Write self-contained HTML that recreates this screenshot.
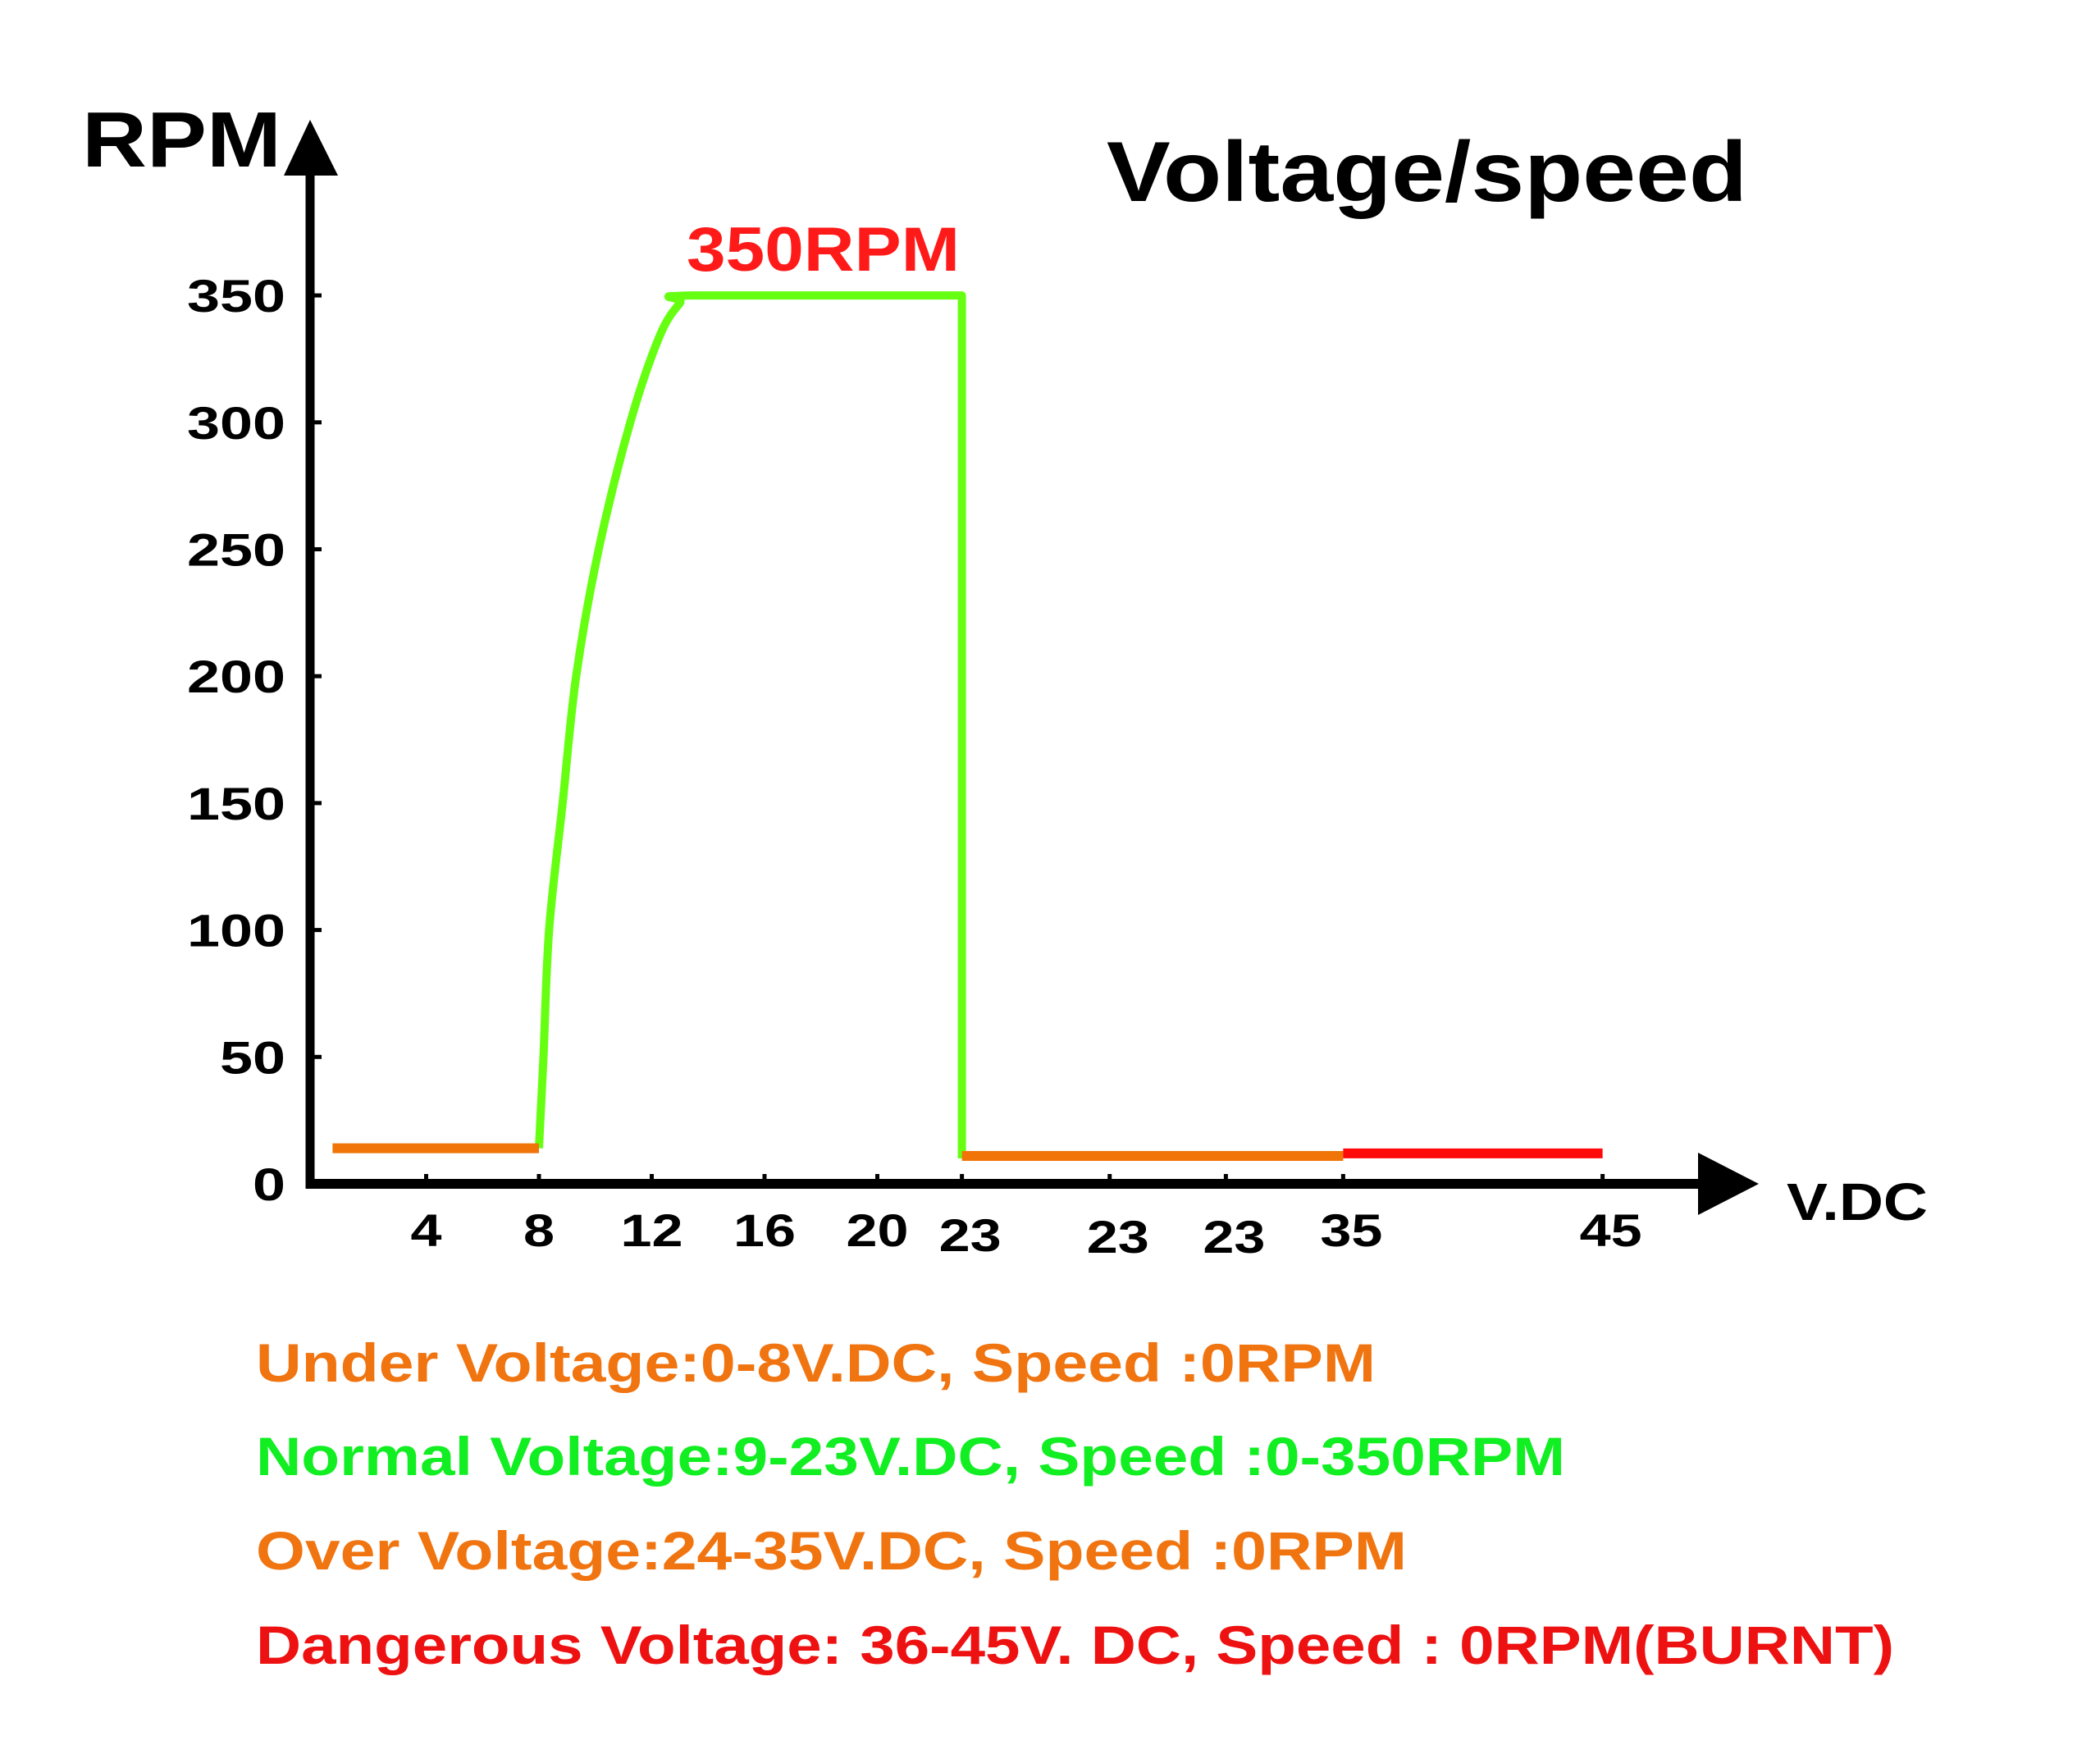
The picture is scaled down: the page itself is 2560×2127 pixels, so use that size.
<!DOCTYPE html>
<html><head><meta charset="utf-8"><style>
html,body{margin:0;padding:0;background:#fff;}
svg{display:block;}
text{font-family:"Liberation Sans",Arial,sans-serif;font-weight:bold;}
</style></head>
<body>
<svg id="chart" width="2560" height="2127" viewBox="0 0 2560 2127" xmlns="http://www.w3.org/2000/svg">
<rect width="2560" height="2127" fill="#fff"/>
<text x="1349" y="245" font-size="104" textLength="781" lengthAdjust="spacingAndGlyphs" fill="#000">Voltage/speed</text>
<text x="100" y="203" font-size="96" textLength="243" lengthAdjust="spacingAndGlyphs" fill="#000">RPM</text>
<text x="2178" y="1487" font-size="64" textLength="172" lengthAdjust="spacingAndGlyphs" fill="#000">V.DC</text>
<text x="837" y="330" font-size="76" textLength="333" lengthAdjust="spacingAndGlyphs" fill="#ff1a1a">350RPM</text>
<g id="axes"></g>
<g id="series"></g>
<g>
<text x="312" y="1684" font-size="66" textLength="1365" lengthAdjust="spacingAndGlyphs" fill="#f07410">Under Voltage:0-8V.DC,  Speed :0RPM</text>
<text x="312" y="1798" font-size="66" textLength="1596" lengthAdjust="spacingAndGlyphs" fill="#11ee22">Normal Voltage:9-23V.DC,  Speed :0-350RPM</text>
<text x="312" y="1913" font-size="66" textLength="1403" lengthAdjust="spacingAndGlyphs" fill="#f07410">Over Voltage:24-35V.DC,  Speed :0RPM</text>
<text x="312" y="2028" font-size="66" textLength="1997" lengthAdjust="spacingAndGlyphs" fill="#ee1111">Dangerous Voltage: 36-45V. DC,   Speed  : 0RPM(BURNT)</text>
</g>
</svg>
<script>
const yTickValues = [0, 50, 100, 150, 200, 250, 300, 350];
const xTickLabels = ["4", "8", "12", "16", "20", "23", "23", "23", "35", "45"];
const xTickUnits = [1, 2, 3, 4, 5, 5.75, 7.06, 8.09, 9.13, 11.43];
const underX = [0.17, 2.0];
const underY = [14, 14];
const normalX = [2.0, 2.04, 2.09, 2.21, 2.33, 2.53, 2.81, 3.07, 3.25, 3.35, 5.75, 5.75];
const normalY = [14, 50, 100, 150, 200, 250, 300, 334, 347, 350, 350, 10];
const overX = [5.75, 9.13];
const overY = [11, 11];
const dangerX = [9.13, 11.43];
const dangerY = [12, 12];

const NS = "http://www.w3.org/2000/svg";
const X0 = 382, KX = 137.5, Y0 = 1443, KY = 3.094;
function xs(u){ return X0 + u * KX; }
function ys(v){ return Y0 - v * KY; }
function mk(tag, attrs, parent){
  const el = document.createElementNS(NS, tag);
  for (const k in attrs) el.setAttribute(k, attrs[k]);
  parent.appendChild(el);
  return el;
}
const axes = document.getElementById("axes");
const series = document.getElementById("series");

let el = mk("line", {x1:378, y1:200, x2:378, y2:1449, stroke:"#000", "stroke-width":11}, axes);


el = mk("polygon", {points:"378,146 346,214 412,214", fill:"#000"}, axes);


el = mk("line", {x1:373, y1:1443, x2:2080, y2:1443, stroke:"#000", "stroke-width":12}, axes);


el = mk("polygon", {points:"2070,1405 2144,1443 2070,1481", fill:"#000"}, axes);



yTickValues.forEach(function(v){
  const t = mk("line", {x1:378, y1:ys(v), x2:392, y2:ys(v), stroke:"#000", "stroke-width":5}, axes);
  
  
  const s = String(v);
  const lb = mk("text", {x:348, y:ys(v)+20, "font-size":56, "text-anchor":"end", fill:"#000", textLength: s.length * 40, lengthAdjust:"spacingAndGlyphs"}, axes);
  lb.textContent = s;
  
  
});
xTickUnits.forEach(function(u, i){
  const t = mk("line", {x1:xs(u), y1:1443, x2:xs(u), y2:1431, stroke:"#000", "stroke-width":5}, axes);
  
  
  const low = (i === 5) ? 6 : ((i === 6 || i === 7) ? 8 : 0);
  const s = xTickLabels[i];
  const lb = mk("text", {x:xs(u) - s.length * 19 + (i >= 5 ? 10 : 0), y:1519+low, "font-size":56, fill:"#000", textLength: s.length * 38, lengthAdjust:"spacingAndGlyphs"}, axes);
  lb.textContent = s;
  
  
});

function smoothPath(xa, ya){
  const p = xa.map(function(u, i){ return [xs(u), ys(ya[i])]; });
  let d = "M" + p[0][0] + "," + p[0][1];
  for (let i = 1; i < p.length; i++) {
    const a = p[Math.max(i - 2, 0)], b = p[i - 1], c = p[i], e = p[Math.min(i + 1, p.length - 1)];
    const straight = (b[0] === c[0]) || (b[1] === c[1]);
    if (straight) { d += " L" + c[0] + "," + c[1]; continue; }
    const c1x = b[0] + (c[0] - a[0]) / 6, c1y = b[1] + (c[1] - a[1]) / 6;
    const c2x = c[0] - (e[0] - b[0]) / 6, c2y = c[1] - (e[1] - b[1]) / 6;
    d += " C" + c1x + "," + c1y + " " + c2x + "," + c2y + " " + c[0] + "," + c[1];
  }
  return d;
}
function pts(xa, ya){ return xa.map(function(u, i){ return xs(u) + "," + ys(ya[i]); }).join(" "); }
el = mk("path", {d:smoothPath(normalX, normalY), fill:"none", stroke:"#66ff11", "stroke-width":10, "stroke-linejoin":"round"}, series);


el = mk("polyline", {points:pts(underX, underY), fill:"none", stroke:"#f07408", "stroke-width":12}, series);


el = mk("polyline", {points:pts(overX, overY), fill:"none", stroke:"#f07408", "stroke-width":12}, series);


el = mk("polyline", {points:pts(dangerX, dangerY), fill:"none", stroke:"#ff0a0a", "stroke-width":12}, series);


</script>
</body></html>
